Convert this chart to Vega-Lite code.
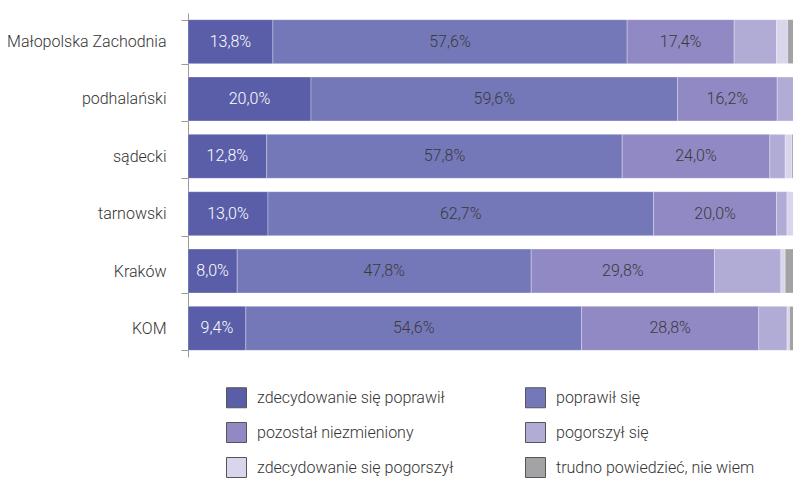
{
  "$schema": "https://vega.github.io/schema/vega-lite/v6.json",
  "autosize": "none",
  "width": 605,
  "height": 344,
  "padding": {"left": 188, "top": 13, "right": 0, "bottom": 128},
  "background": "white",
  "config": {
    "view": {"stroke": null},
    "font": "Roboto"
  },
  "data": {
    "values": [
      {"region": "Małopolska Zachodnia", "category": "zdecydowanie się poprawił", "o": 1, "value": 13.8},
      {"region": "Małopolska Zachodnia", "category": "poprawił się", "o": 2, "value": 57.6},
      {"region": "Małopolska Zachodnia", "category": "pozostał niezmieniony", "o": 3, "value": 17.4},
      {"region": "Małopolska Zachodnia", "category": "pogorszył się", "o": 4, "value": 6.9},
      {"region": "Małopolska Zachodnia", "category": "zdecydowanie się pogorszył", "o": 5, "value": 1.8},
      {"region": "Małopolska Zachodnia", "category": "trudno powiedzieć, nie wiem", "o": 6, "value": 2.5},
      {"region": "podhalański", "category": "zdecydowanie się poprawił", "o": 1, "value": 20.0},
      {"region": "podhalański", "category": "poprawił się", "o": 2, "value": 59.6},
      {"region": "podhalański", "category": "pozostał niezmieniony", "o": 3, "value": 16.2},
      {"region": "podhalański", "category": "pogorszył się", "o": 4, "value": 3.2},
      {"region": "podhalański", "category": "zdecydowanie się pogorszył", "o": 5, "value": 0.4},
      {"region": "podhalański", "category": "trudno powiedzieć, nie wiem", "o": 6, "value": 0.6},
      {"region": "sądecki", "category": "zdecydowanie się poprawił", "o": 1, "value": 12.8},
      {"region": "sądecki", "category": "poprawił się", "o": 2, "value": 57.8},
      {"region": "sądecki", "category": "pozostał niezmieniony", "o": 3, "value": 24.0},
      {"region": "sądecki", "category": "pogorszył się", "o": 4, "value": 2.5},
      {"region": "sądecki", "category": "zdecydowanie się pogorszył", "o": 5, "value": 1.1},
      {"region": "sądecki", "category": "trudno powiedzieć, nie wiem", "o": 6, "value": 1.8},
      {"region": "tarnowski", "category": "zdecydowanie się poprawił", "o": 1, "value": 13.0},
      {"region": "tarnowski", "category": "poprawił się", "o": 2, "value": 62.7},
      {"region": "tarnowski", "category": "pozostał niezmieniony", "o": 3, "value": 20.0},
      {"region": "tarnowski", "category": "pogorszył się", "o": 4, "value": 1.7},
      {"region": "tarnowski", "category": "zdecydowanie się pogorszył", "o": 5, "value": 1.3},
      {"region": "tarnowski", "category": "trudno powiedzieć, nie wiem", "o": 6, "value": 1.3},
      {"region": "Kraków", "category": "zdecydowanie się poprawił", "o": 1, "value": 8.0},
      {"region": "Kraków", "category": "poprawił się", "o": 2, "value": 47.8},
      {"region": "Kraków", "category": "pozostał niezmieniony", "o": 3, "value": 29.8},
      {"region": "Kraków", "category": "pogorszył się", "o": 4, "value": 10.8},
      {"region": "Kraków", "category": "zdecydowanie się pogorszył", "o": 5, "value": 0.7},
      {"region": "Kraków", "category": "trudno powiedzieć, nie wiem", "o": 6, "value": 2.9},
      {"region": "KOM", "category": "zdecydowanie się poprawił", "o": 1, "value": 9.4},
      {"region": "KOM", "category": "poprawił się", "o": 2, "value": 54.6},
      {"region": "KOM", "category": "pozostał niezmieniony", "o": 3, "value": 28.8},
      {"region": "KOM", "category": "pogorszył się", "o": 4, "value": 4.6},
      {"region": "KOM", "category": "zdecydowanie się pogorszył", "o": 5, "value": 0.4},
      {"region": "KOM", "category": "trudno powiedzieć, nie wiem", "o": 6, "value": 2.2}
    ]
  },
  "transform": [
    {"stack": "value", "groupby": ["region"], "sort": [{"field": "o"}], "as": ["x0", "x1"]},
    {"calculate": "(datum.x0 + datum.x1) / 2", "as": "mid"},
    {"calculate": "replace(format(datum.value, '.1f'), '.', ',') + '%'", "as": "label"}
  ],
  "encoding": {
    "y": {
      "field": "region",
      "type": "nominal",
      "sort": ["Małopolska Zachodnia", "podhalański", "sądecki", "tarnowski", "Kraków", "KOM"],
      "scale": {"paddingInner": 0.233, "paddingOuter": 0.116},
      "axis": {
        "title": null,
        "tickBand": "extent",
        "domainColor": "#9a9a9a",
        "tickColor": "#9a9a9a",
        "tickSize": 7,
        "labelPadding": 15,
        "labelFontSize": 16,
        "labelFontWeight": 300,
        "labelColor": "#333333",
        "labelFont": "Roboto"
      }
    }
  },
  "layer": [
    {
      "mark": {"type": "bar", "clip": true, "stroke": "#ffffff", "strokeWidth": 0.6, "strokeOpacity": 0.5},
      "encoding": {
        "x": {"field": "x0", "type": "quantitative", "scale": {"domain": [0, 98.37], "nice": false, "zero": true}, "axis": null},
        "x2": {"field": "x1"},
        "color": {
          "field": "category",
          "type": "nominal",
          "scale": {
            "domain": ["zdecydowanie się poprawił", "pozostał niezmieniony", "zdecydowanie się pogorszył", "poprawił się", "pogorszył się", "trudno powiedzieć, nie wiem"],
            "range": ["#5a5ea8", "#9189c3", "#d9d5ec", "#7478b8", "#b1acd6", "#a3a3a5"]
          },
          "legend": {
            "title": null,
            "orient": "none",
            "legendX": 38,
            "legendY": 374,
            "columns": 2,
            "columnPadding": 69,
            "rowPadding": 10,
            "symbolType": "square",
            "symbolSize": 400,
            "symbolStrokeColor": "#555555",
            "symbolStrokeWidth": 1,
            "symbolOpacity": 1,
            "labelOffset": 10,
            "labelFontSize": 16,
            "labelFontWeight": 300,
            "labelColor": "#333333",
            "labelFont": "Roboto",
            "labelLimit": 400
          }
        }
      }
    },
    {
      "transform": [{"filter": "datum.o <= 3"}],
      "mark": {"type": "text", "fontSize": 16, "fontWeight": 300, "font": "Roboto", "align": "center", "baseline": "middle"},
      "encoding": {
        "x": {"field": "mid", "type": "quantitative"},
        "text": {"field": "label"},
        "color": {
          "condition": {"test": "datum.o == 1", "value": "#ffffff"},
          "value": "#3a3a3a"
        }
      }
    }
  ]
}
